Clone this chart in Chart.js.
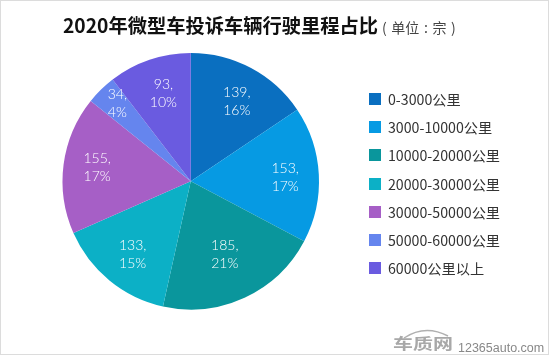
<!DOCTYPE html>
<html>
<head>
<meta charset="utf-8">
<script src="https://cdn.jsdelivr.net/npm/chart.js@4"></script>
<style>
  html, body { margin: 0; padding: 0; background: #fff; }
  #frame { position: relative; width: 547px; height: 353px; border: 1px solid #dcdcdc; overflow: hidden; font-family: "Noto Sans CJK SC", "Noto Sans", sans-serif; }
  #canvas-wrap { position: absolute; left: -1px; top: -1px; width: 550px; height: 356px; }
  #title { position: absolute; left: 62px; top: 10px; white-space: nowrap; color: #111; font-size: 19.25px; font-weight: 700; line-height: 28px; }
  #title .unit { font-size: 14px; font-weight: 400; color: #444; margin-left: 4px; word-spacing: 1.5px; }
  #legend { position: absolute; left: 368px; top: 84px; margin: 0; padding: 0; list-style: none; }
  #legend li { display: flex; align-items: center; height: 28.2px; font-size: 14.2px; color: #333; white-space: nowrap; }
  #legend i { display: block; width: 12px; height: 12px; margin-right: 7px; }
  #logo-arc { position: absolute; left: 400px; top: 325px; }
  #mark-cn { position: absolute; left: 392px; top: 328px; font-size: 20px; font-weight: 700; line-height: 28px; color: #a8a8a8; transform: scaleY(0.72); white-space: nowrap; }
  #mark-en { position: absolute; left: 457px; top: 339px; font-size: 12.5px; line-height: 16px; font-family: "Liberation Sans", sans-serif; color: #888; white-space: nowrap; }
</style>
</head>
<body>
<div id="frame">
  <div id="canvas-wrap"><canvas id="pie" width="550" height="356"></canvas></div>
  <div id="title">2020年微型车投诉车辆行驶里程占比<span class="unit">( 单位 : 宗 )</span></div>
  <ul id="legend"></ul>
  <svg id="logo-arc" width="52" height="16"><path d="M3 12 Q24 -2 47 10" fill="none" stroke="#b0b0b0" stroke-width="1.5"/></svg>
  <div id="mark-cn">车质网</div>
  <div id="mark-en">12365auto.com</div>
</div>
<script>
const CATEGORIES = ["0-3000公里", "3000-10000公里", "10000-20000公里", "20000-30000公里", "30000-50000公里", "50000-60000公里", "60000公里以上"];
const COUNTS = [139, 153, 185, 133, 155, 34, 93];
const PERCENTS = ["16%", "17%", "21%", "15%", "17%", "4%", "10%"];
const COLORS = ["#0a6fc0", "#069ae3", "#0a969c", "#0cb0c6", "#a65fc6", "#6585ee", "#6a5be0"];

// labels in the original were nudged by hand, so each one gets its own distance and turn
const LABEL_RADIUS = [0.716, 0.737, 0.632, 0.73, 0.738, 0.833, 0.718];
const LABEL_TURN_DEG = [2, 1, 0, -1, 1, 1, 1.5];

const sliceLabels = {
  id: "sliceLabels",
  afterDatasetsDraw(chart) {
    const ctx = chart.ctx;
    ctx.save();
    ctx.font = '300 14px Lato, sans-serif';
    ctx.fillStyle = "#fff";
    ctx.textAlign = "center";
    ctx.textBaseline = "middle";
    chart.getDatasetMeta(0).data.forEach((arc, i) => {
      const mid = (arc.startAngle + arc.endAngle) / 2 + LABEL_TURN_DEG[i] * Math.PI / 180;
      const r = arc.outerRadius * LABEL_RADIUS[i];
      const x = arc.x + Math.cos(mid) * r;
      const y = arc.y + Math.sin(mid) * r;
      ctx.fillText(`${COUNTS[i]},`, x, y - 9);
      ctx.fillText(PERCENTS[i], x, y + 9);
    });
    ctx.restore();
  },
};

document.getElementById("legend").innerHTML = CATEGORIES
  .map((name, i) => `<li><i style="background:${COLORS[i]}"></i>${name}</li>`)
  .join("");

new Chart(document.getElementById("pie"), {
  type: "pie",
  data: {
    labels: CATEGORIES,
    datasets: [{ data: COUNTS, backgroundColor: COLORS, borderWidth: 0 }],
  },
  options: {
    responsive: false,
    animation: false,
    layout: { padding: { left: 62.5, right: 231, top: 52.5, bottom: 46 } },
    plugins: { legend: { display: false }, tooltip: { enabled: false } },
  },
  plugins: [sliceLabels],
});
</script>
</body>
</html>
